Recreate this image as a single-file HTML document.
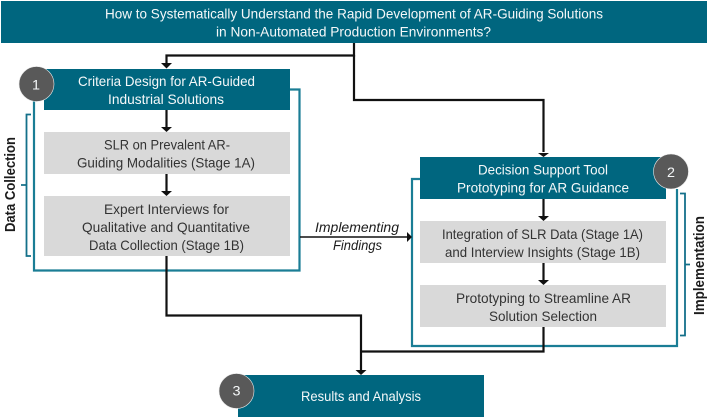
<!DOCTYPE html>
<html>
<head>
<meta charset="utf-8">
<style>
html,body{margin:0;padding:0;background:#fff;width:708px;height:418px;overflow:hidden}
svg{display:block;filter:blur(0.3px)}
text{font-family:"Liberation Sans",sans-serif;font-size:14px}
.w{fill:#f5f8f9}
.d{fill:#333}
.k{fill:#1c1c1c}
</style>
</head>
<body>
<svg width="708" height="418" viewBox="0 0 708 418" xmlns="http://www.w3.org/2000/svg">
<rect width="708" height="418" fill="#fff"/>

<!-- frames -->
<path d="M34 100V270.5H299.5V89.5H290" fill="none" stroke="#1a7d95" stroke-width="2.2"/>
<path d="M420 179H412V346H677V189" fill="none" stroke="#1a7d95" stroke-width="2.2"/>

<!-- brackets -->
<path d="M31 114.5H26.5V256H31M26.5 185H21" fill="none" stroke="#14708a" stroke-width="1.8"/>
<path d="M680 193.5H685V335.5H680M685 264.5H690" fill="none" stroke="#14708a" stroke-width="1.8"/>

<!-- boxes -->
<rect x="1" y="1" width="706" height="42" fill="#00667f"/>
<rect x="44" y="69" width="246" height="41" fill="#00667f"/>
<rect x="420" y="157" width="246" height="42" fill="#00667f"/>
<rect x="238" y="375" width="246" height="42" fill="#00667f"/>
<rect x="44" y="132" width="246" height="42" fill="#d9d9d9"/>
<rect x="44" y="196" width="246" height="60" fill="#d9d9d9"/>
<rect x="420" y="221" width="246" height="42" fill="#d9d9d9"/>
<rect x="420" y="285" width="246" height="42" fill="#d9d9d9"/>

<!-- connectors -->
<g fill="none" stroke="#111" stroke-width="2.2">
<path d="M354 43V55.5H166.5V64"/>
<path d="M354 55V100H543.5V152"/>
<path d="M166.5 110V127"/>
<path d="M166.5 174V191"/>
<path d="M543.5 199V216"/>
<path d="M543.5 263V280"/>
<path d="M166.5 256V315.5H361V371"/>
<path d="M543.5 327V351.5H361"/>
</g>
<path d="M300 237H408" fill="none" stroke="#111" stroke-width="1.5"/>

<!-- arrowheads -->
<g fill="#111">
<path d="M161 63H172L166.5 68.5Z"/>
<path d="M161 127H172L166.5 132Z"/>
<path d="M161 191H172L166.5 196Z"/>
<path d="M538 153H549L543.5 157Z"/>
<path d="M538 216H549L543.5 221Z"/>
<path d="M538 280H549L543.5 285Z"/>
<path d="M355.5 370H366.5L361 375Z"/>
<path d="M407 232V242L412 237Z"/>
</g>

<!-- circles -->
<g fill="#595959" stroke="#e8e8e8" stroke-width="0.6">
<circle cx="36.5" cy="84" r="17.5"/>
<circle cx="671" cy="171.5" r="17.5"/>
<circle cx="236.5" cy="391" r="17.5"/>
</g>
<text class="w" x="32" y="89.5" textLength="8" lengthAdjust="spacingAndGlyphs">1</text>
<text class="w" x="667" y="177" textLength="8" lengthAdjust="spacingAndGlyphs">2</text>
<text class="w" x="232.5" y="395.5" textLength="8" lengthAdjust="spacingAndGlyphs">3</text>

<!-- header text -->
<text class="w" x="105" y="18.5" textLength="498" lengthAdjust="spacingAndGlyphs">How to Systematically Understand the Rapid Development of AR-Guiding Solutions</text>
<text class="w" x="216" y="36.5" textLength="275" lengthAdjust="spacingAndGlyphs">in Non-Automated Production Environments?</text>

<!-- box 1 -->
<text class="w" x="78" y="86" textLength="177" lengthAdjust="spacingAndGlyphs">Criteria Design for AR-Guided</text>
<text class="w" x="108" y="104" textLength="116" lengthAdjust="spacingAndGlyphs">Industrial Solutions</text>
<text class="d" x="104" y="149.5" textLength="126" lengthAdjust="spacingAndGlyphs">SLR on Prevalent AR-</text>
<text class="d" x="77" y="167.5" textLength="178" lengthAdjust="spacingAndGlyphs">Guiding Modalities (Stage 1A)</text>
<text class="d" x="104" y="214" textLength="125" lengthAdjust="spacingAndGlyphs">Expert Interviews for</text>
<text class="d" x="82" y="232" textLength="168" lengthAdjust="spacingAndGlyphs">Qualitative and Quantitative</text>
<text class="d" x="89" y="250" textLength="155" lengthAdjust="spacingAndGlyphs">Data Collection (Stage 1B)</text>

<!-- box 2 -->
<text class="w" x="478" y="174.5" textLength="130" lengthAdjust="spacingAndGlyphs">Decision Support Tool</text>
<text class="w" x="457" y="192.5" textLength="172" lengthAdjust="spacingAndGlyphs">Prototyping for AR Guidance</text>
<text class="d" x="442" y="239" textLength="201" lengthAdjust="spacingAndGlyphs">Integration of SLR Data (Stage 1A)</text>
<text class="d" x="445" y="257" textLength="195" lengthAdjust="spacingAndGlyphs">and Interview Insights (Stage 1B)</text>
<text class="d" x="456" y="303" textLength="175" lengthAdjust="spacingAndGlyphs">Prototyping to Streamline AR</text>
<text class="d" x="489" y="321" textLength="108" lengthAdjust="spacingAndGlyphs">Solution Selection</text>

<!-- results -->
<text class="w" x="301" y="401" textLength="120" lengthAdjust="spacingAndGlyphs">Results and Analysis</text>

<!-- implementing findings -->
<text class="k" x="315" y="232" textLength="84" lengthAdjust="spacingAndGlyphs" style="font-style:italic">Implementing</text>
<text class="k" x="333" y="250" textLength="49" lengthAdjust="spacingAndGlyphs" style="font-style:italic">Findings</text>

<!-- side labels -->
<text class="k" transform="translate(15 232) rotate(-90)" textLength="95" lengthAdjust="spacingAndGlyphs" style="font-weight:bold;font-size:14.5px">Data Collection</text>
<text class="k" transform="translate(704 315) rotate(-90)" textLength="99" lengthAdjust="spacingAndGlyphs" style="font-weight:bold;font-size:14.5px">Implementation</text>
</svg>
</body>
</html>
